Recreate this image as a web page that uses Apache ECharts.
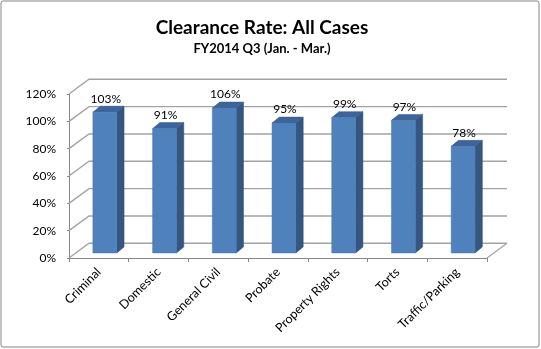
<!DOCTYPE html>
<html><head><meta charset="utf-8">
<script src="https://cdn.jsdelivr.net/npm/echarts@6/dist/echarts.min.js"></script>
<style>html,body{margin:0;padding:0;background:#fff}#c{width:541px;height:349px}</style>
</head><body><div id="c"></div>
<script>
var categories = ['Criminal','Domestic','General Civil','Probate','Property Rights','Torts','Traffic/Parking'];
var clearance = [103, 91, 106, 95, 99, 97, 78];
var yTicks = [0, 20, 40, 60, 80, 100, 120];
var titleText = 'Clearance Rate: All Cases';
var subtitleText = 'FY2014 Q3 (Jan. - Mar.)';

var FONT = 'Lato, "Liberation Sans", sans-serif';
var chart = echarts.init(document.getElementById('c'), null, {renderer:'canvas'});

function wallItem(params, api) {
  var cs = params.coordSys;
  var bw = api.size([1, 0])[0];
  var dx = bw * 0.335, dy = bw * 0.246;
  var v = api.value(0);
  var y = api.coord([0, v])[1];
  var x0 = cs.x, x1 = cs.x + cs.width;
  var children = [{
    type: 'polyline',
    shape: {points: [[x0, y], [x0 + dx, y - dy], [x1 + dx, y - dy]]},
    style: {stroke: '#a3a3a3', lineWidth: 1.4, fill: null}
  }];
  if (v === 0) {
    children.push({
      type: 'line',
      shape: {x1: x1, y1: y, x2: x1 + dx, y2: y - dy},
      style: {stroke: '#a3a3a3', lineWidth: 1.2}
    });
  }
  return {type: 'group', children: children};
}

function barItem(params, api) {
  var i = api.value(0), v = api.value(1);
  var base = api.coord([i, 0]);
  var top = api.coord([i, v]);
  var bw = api.size([1, 0])[0];
  var fw = 0.40 * bw;
  var ox = 0.10 * bw, oy = 0.085 * bw;
  var ddx = 0.122 * bw, ddy = 0.10 * bw;
  var x = base[0] - fw / 2 + ox;
  var yt = top[1] - oy, yb = base[1] - oy;
  return {
    type: 'group',
    children: [
      {type: 'polygon', shape: {points: [[x + fw, yt], [x + fw + ddx, yt - ddy], [x + fw + ddx, yb - ddy], [x + fw, yb]]},
        style: {fill: '#34567f', stroke: '#2f5078', lineWidth: 0.5}},
      {type: 'polygon', shape: {points: [[x, yt], [x + ddx, yt - ddy], [x + fw + ddx, yt - ddy], [x + fw, yt]]},
        style: {fill: '#3d659c', stroke: '#34588a', lineWidth: 0.5}},
      {type: 'rect', shape: {x: x, y: yt, width: fw, height: yb - yt},
        style: {fill: '#4f81bd', stroke: '#4a78b0', lineWidth: 0.5}},
      {type: 'text', style: {text: v + '%', x: x + fw / 2 + 1, y: yt - ddy - 1.5, align: 'center', verticalAlign: 'bottom',
        fill: '#000', font: '12px ' + FONT}}
    ]
  };
}

chart.setOption({
  animation: false,
  backgroundColor: '#fff',
  grid: {left: 69, right: 54, top: 94, bottom: 91, containLabel: false},
  xAxis: {
    type: 'category', data: categories, boundaryGap: true,
    axisLine: {show: true, lineStyle: {color: '#868686', width: 1}},
    axisTick: {show: true, alignWithLabel: false, length: 4, lineStyle: {color: '#868686'}},
    axisLabel: {rotate: 45, interval: 0, margin: 12, color: '#000', fontFamily: FONT, fontSize: 12.5},
    splitLine: {show: false}
  },
  yAxis: {
    type: 'value', min: 0, max: 120, interval: 20,
    axisLine: {show: true, lineStyle: {color: '#868686', width: 1}},
    axisTick: {show: true, length: 2, lineStyle: {color: '#868686'}},
    axisLabel: {formatter: '{value}%', color: '#000', fontFamily: FONT, fontSize: 12, margin: 13},
    splitLine: {show: false}
  },
  graphic: [
    {type: 'rect', shape: {x: 1, y: 1, width: 538, height: 346, r: 2}, style: {fill: null, stroke: '#868686', lineWidth: 1}, z: 100},
    {type: 'text', x: 262, y: 28, style: {text: titleText, align: 'center', verticalAlign: 'middle', font: 'bold 19px ' + FONT, fill: '#000'}},
    {type: 'text', x: 262, y: 49, style: {text: subtitleText, align: 'center', verticalAlign: 'middle', font: 'bold 13px ' + FONT, fill: '#000'}}
  ],
  series: [
    {type: 'custom', renderItem: wallItem, data: yTicks.map(function (t) { return [t]; }), z: 1, silent: true},
    {type: 'custom', renderItem: barItem, data: clearance.map(function (v, i) { return [i, v]; }), z: 5,
      encode: {x: 0, y: 1}}
  ]
});
</script></body></html>
